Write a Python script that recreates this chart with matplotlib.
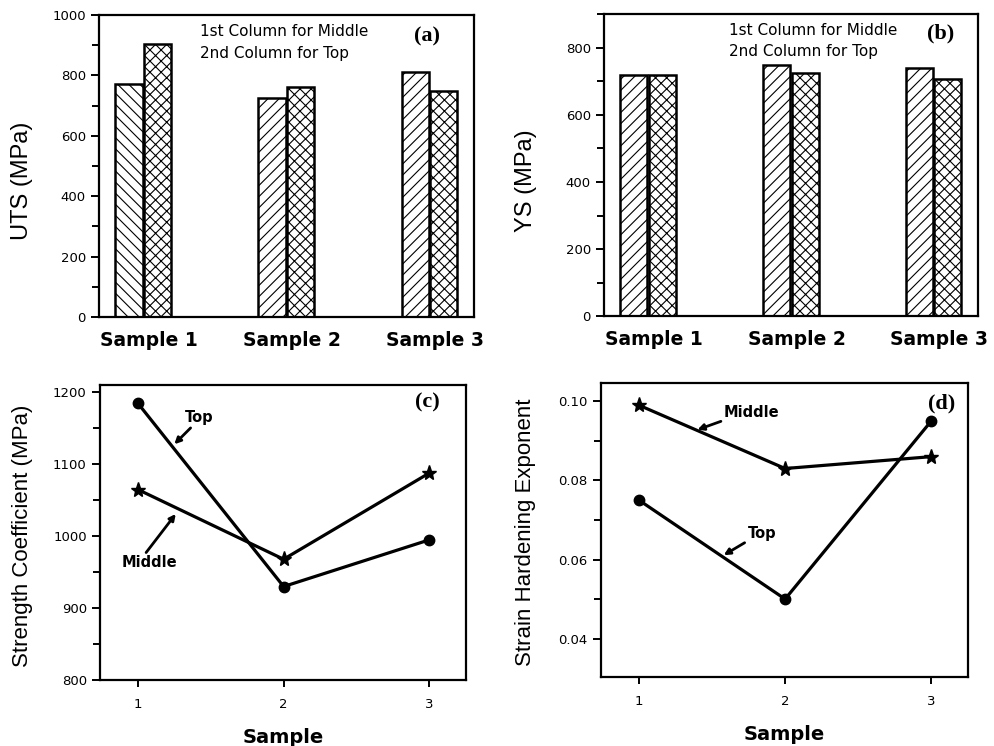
"""Four-panel figure: UTS / YS bars and strength coefficient / hardening exponent lines."""
import matplotlib
matplotlib.use("Agg")
import matplotlib.pyplot as plt
import numpy as np
from matplotlib.ticker import MultipleLocator

plt.rcParams["hatch.linewidth"] = 0.8
plt.rcParams["font.family"] = "DejaVu Sans"

samples = ["Sample 1", "Sample 2", "Sample 3"]
sample_idx = [1, 2, 3]

uts_middle = [770, 725, 810]
uts_top = [905, 760, 748]
ys_middle = [720, 748, 740]
ys_top = [720, 725, 708]

k_top = [1185, 930, 995]
k_middle = [1065, 968, 1088]
n_top = [0.075, 0.050, 0.095]
n_middle = [0.099, 0.083, 0.086]

fig = plt.figure(figsize=(9.94, 7.46), dpi=100)
ax_a = fig.add_axes([0.0996, 0.575, 0.377, 0.405])
ax_b = fig.add_axes([0.6076, 0.576, 0.376, 0.405])
ax_c = fig.add_axes([0.1006, 0.0885, 0.368, 0.395])
ax_d = fig.add_axes([0.6046, 0.0925, 0.369, 0.394])


def style_axes(ax):
    for s in ax.spines.values():
        s.set_linewidth(1.6)
    ax.tick_params(axis="y", which="major", direction="out", length=6, width=1.4,
                   labelsize=9.5)
    ax.tick_params(axis="y", which="minor", direction="out", length=5, width=1.4)


def bar_panel(ax, middle, top, ymax, mid_hatches, ylabel, tag, label_xy, note_x, note_y):
    x = np.arange(len(samples))
    w = 0.19
    for i in x:
        ax.bar(i - 0.1, middle[i], w, color="white", edgecolor="black", linewidth=1.8,
               hatch=mid_hatches[i])
        ax.bar(i + 0.1, top[i], w, color="white", edgecolor="black", linewidth=1.8,
               hatch="xxx")
    ax.set_xlim(-0.31, 2.31)
    ax.set_ylim(0, ymax)
    ax.yaxis.set_major_locator(MultipleLocator(200))
    ax.yaxis.set_minor_locator(MultipleLocator(100))
    style_axes(ax)
    ax.set_xticks(x + 0.04)
    ax.set_xticklabels(samples, fontsize=13.5, fontweight="bold")
    ax.tick_params(axis="x", length=0, pad=10)
    ax.set_ylabel(ylabel, fontsize=17, family="Liberation Sans")
    ax.yaxis.set_label_coords(label_xy[0], label_xy[1])
    ax.text(note_x, note_y, "1st Column for Middle", transform=ax.transAxes,
            fontsize=11, va="center", ha="left")
    ax.text(note_x, note_y - 0.072, "2nd Column for Top", transform=ax.transAxes,
            fontsize=11, va="center", ha="left")
    ax.text(tag[1], tag[2], tag[0], transform=ax.transAxes, fontsize=16,
            fontweight="bold", family="Liberation Serif", ha="center", va="center")


bar_panel(ax_a, uts_middle, uts_top, 1000, ["\\\\\\", "///", "///"], "UTS (MPa)",
          ("(a)", 0.875, 0.927), (-0.176, 0.45), 0.27, 0.944)
bar_panel(ax_b, ys_middle, ys_top, 900, ["///", "///", "///"], "YS (MPa)",
          ("(b)", 0.90, 0.937), (-0.179, 0.45), 0.334, 0.947)


def line_panel(ax, top, middle, ylim, major, minor, ylabel, label_xy, tag, fmt):
    ax.plot(sample_idx, top, color="black", lw=2.3, marker="o", markersize=7.5)
    ax.plot(sample_idx, middle, color="black", lw=2.3, marker="*", markersize=11)
    ax.set_xlim(0.74, 3.25)
    ax.set_ylim(*ylim)
    ax.yaxis.set_major_locator(MultipleLocator(major))
    ax.yaxis.set_minor_locator(MultipleLocator(minor))
    ax.yaxis.set_major_formatter(fmt)
    style_axes(ax)
    ax.set_xticks(sample_idx)
    ax.tick_params(axis="x", direction="out", length=5, width=1.4, labelsize=9.5, pad=8)
    ax.set_xlabel("Sample", fontsize=14, fontweight="bold", labelpad=12)
    ax.set_ylabel(ylabel, fontsize=16, family="Liberation Sans")
    ax.yaxis.set_label_coords(label_xy[0], label_xy[1])
    ax.text(tag[1], tag[2], tag[0], transform=ax.transAxes, fontsize=16,
            fontweight="bold", family="Liberation Serif", ha="center", va="center")


line_panel(ax_c, k_top, k_middle, (800, 1210), 100, 50, "Strength Coefficient (MPa)",
           (-0.183, 0.49), ("(c)", 0.896, 0.942), "{x:.0f}")
line_panel(ax_d, n_top, n_middle, (0.0303, 0.1046), 0.02, 0.01, "Strain Hardening Exponent",
           (-0.177, 0.493), ("(d)", 0.929, 0.932), "{x:.2f}")

arrow = dict(arrowstyle="-|>", color="black", lw=2.0, mutation_scale=9, shrinkA=0, shrinkB=0)
ax_c.annotate("Top", xy=(1.25, 1128), xytext=(1.42, 1165), fontsize=10.5,
              fontweight="bold", ha="center", va="center",
              arrowprops=dict(arrow, relpos=(0.3, 0.0)))
ax_c.annotate("Middle", xy=(1.26, 1031), xytext=(1.08, 963), fontsize=10.5,
              fontweight="bold", ha="center", va="center",
              arrowprops=dict(arrow, relpos=(0.4, 1.0)))
ax_d.annotate("Middle", xy=(1.40, 0.0928), xytext=(1.77, 0.0972), fontsize=10.5,
              fontweight="bold", ha="center", va="center",
              arrowprops=dict(arrow, relpos=(0.1, 0.1)))
ax_d.annotate("Top", xy=(1.58, 0.0611), xytext=(1.84, 0.0666), fontsize=10.5,
              fontweight="bold", ha="center", va="center",
              arrowprops=dict(arrow, relpos=(0.1, 0.1)))

fig.savefig("out.png", dpi=100)
